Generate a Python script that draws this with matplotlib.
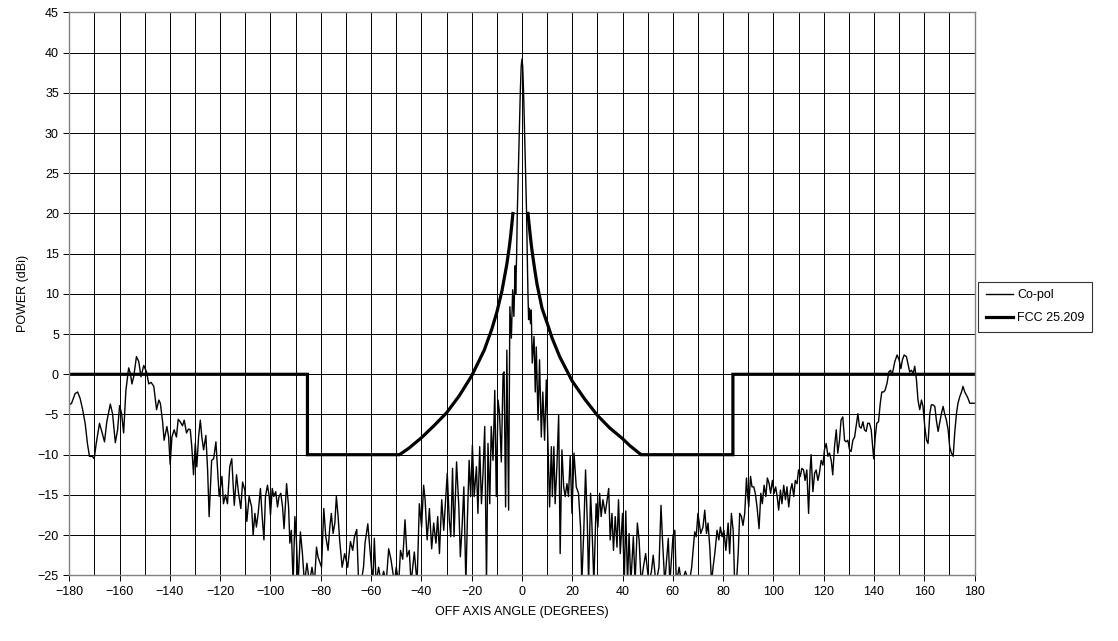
import matplotlib
matplotlib.use("Agg")
import matplotlib.pyplot as plt

plt.rcParams["font.family"] = ["Liberation Sans", "DejaVu Sans"]

# Co-pol trace (angle in degrees, power in dBi)
copol_angle = [
    -180, -179.1, -177.7, -176.7, -175.7, -174.7, -173.7, -172.8, -172, -170.9,
    -170.1, -169.3, -168, -167.1, -166, -165.1, -163.7, -162.8, -161.7, -160.8,
    -160, -159.2, -158.4, -157.5, -156.4, -155.7, -155.1, -154.4, -153.3, -152.4,
    -151.5, -150.4, -149.3, -148.4, -147.5, -146.4, -145.3, -144.4, -143.8, -142.9,
    -142.3, -141.2, -140.5, -139.9, -139.2, -138.3, -137.4, -136.7, -135.9, -135,
    -134.3, -133.4, -132.6, -131.9, -131.3, -130.6, -129.9, -129.3, -128.6, -127.9,
    -127.3, -126.6, -125.7, -125, -124.4, -123.4, -122.6, -121.7, -121.1, -120.4,
    -119.3, -118.7, -117.9, -117.1, -116.2, -115.4, -114.4, -113.5, -112.7, -111.8,
    -111.1, -110.2, -109.4, -108.5, -107.5, -106.9, -106.2, -105.6, -104.9, -104,
    -103.3, -102.6, -102, -101.2, -100.5, -100, -99.3, -98.7, -97.9, -97.2,
    -96.6, -95.9, -95.2, -94.6, -93.6, -92.8, -92.3, -91.7, -91, -90.3,
    -89.7, -89, -88.1, -87.3, -86.5, -85.5, -84.5, -83.5, -82.5, -81.7,
    -81.1, -79.7, -78.8, -78, -77.1, -76.4, -75.8, -75.1, -74.4, -73.8,
    -73.1, -72.5, -71.5, -70.5, -69.3, -68.2, -67.3, -66.6, -65.7, -65,
    -64, -63, -62.4, -61.3, -60.3, -59.3, -58.7, -58, -57, -56,
    -55, -54, -53, -52.1, -50.7, -50, -49, -48.3, -47.4, -46.5,
    -45.7, -44.8, -44.1, -42.8, -41.7, -40.8, -39.9, -39.1, -38.5, -37.7,
    -36.8, -35.9, -35.1, -34.2, -33.5, -32.8, -31.9, -31.1, -29.7, -28.9,
    -28.3, -27.6, -27, -26, -25.1, -24.5, -23.8, -23.1, -22.3, -21.7,
    -21, -20.4, -19.7, -19, -18.1, -17.5, -16.8, -16.1, -15.5, -14.8,
    -14.1, -13.5, -12.8, -12.2, -11.5, -10.8, -10.2, -9.5, -8.9, -8.2,
    -7.5, -7.1, -6.5, -6, -5.3, -4.8, -4.2, -3.7, -3.2, -2.7,
    -2.5, -2.1, -1.85, -1.46, -1.06, -0.66, -0.3, 0, 0.3, 0.66,
    1.06, 1.46, 1.85, 2.1, 2.4, 2.65, 3, 3.4, 3.7, 4.1,
    4.8, 5.3, 5.7, 6.4, 7, 7.7, 8.3, 9, 9.7, 10.3,
    11, 11.7, 12.1, 12.7, 13.2, 13.9, 14.6, 15.2, 15.9, 16.6,
    17.2, 17.9, 18.5, 19.2, 19.9, 20.7, 21.6, 22.5, 23.3, 23.8,
    24.6, 25.3, 26, 26.5, 27.3, 27.8, 28.6, 29.5, 30.2, 30.9,
    31.5, 32.2, 33.1, 33.9, 34.5, 35.1, 35.8, 36.4, 37.1, 37.8,
    38.4, 39.1, 40, 40.7, 41.3, 42, 42.6, 43.3, 44.3, 45,
    45.9, 46.6, 47.4, 48.3, 49.2, 50.5, 51.5, 52.2, 53.3, 54.5,
    55.3, 55.9, 56.8, 58.2, 58.8, 60.1, 60.8, 61.4, 62.5, 63.5,
    65, 66.5, 67.5, 68.7, 69.3, 70, 71.1, 72, 72.7, 73.4,
    74, 74.7, 75.4, 76, 76.7, 77.6, 78.3, 78.9, 79.6, 80.3,
    81.1, 82, 82.6, 83.3, 84, 84.6, 85.3, 86, 86.6, 87.3,
    87.9, 88.6, 89.3, 89.7, 90.2, 90.9, 91.5, 92.2, 92.8, 93.5,
    94.3, 95, 95.6, 96.3, 97, 97.6, 98.3, 98.9, 99.6, 100.3,
    100.9, 101.5, 102.1, 102.8, 103.4, 104.1, 104.8, 105.4, 106.1, 106.8,
    107.4, 108.1, 108.7, 109.4, 110, 110.7, 111.3, 112, 112.6, 113.3,
    114, 114.6, 115, 115.7, 116.4, 117, 117.7, 118.3, 119, 119.7,
    120.3, 121, 121.7, 122.3, 123, 123.6, 124.3, 125, 125.6, 126.3,
    126.9, 127.6, 128.3, 128.9, 129.6, 130.3, 130.9, 131.6, 132.3, 132.9,
    133.6, 134.2, 134.9, 135.6, 136.2, 136.9, 137.5, 138.2, 138.9, 139.5,
    139.9, 140.5, 141.1, 141.8, 142.5, 143.1, 143.8, 144.4, 145.2, 145.9,
    146.6, 147.2, 147.9, 148.3, 149.2, 150, 150.7, 151.3, 152, 152.9,
    153.6, 154.2, 154.9, 155.6, 156.2, 156.9, 157.5, 158.2, 158.9, 159.5,
    160.2, 160.9, 161.5, 162.2, 162.8, 163.5, 164.2, 164.8, 165.5, 166.2,
    166.8, 167.5, 168.1, 168.8, 169.5, 170.1, 170.8, 171.5, 172.1, 172.8,
    173.4, 174.1, 174.8, 175.4, 176.1, 176.8, 177.4, 178.1, 178.7, 180,
]
copol_power = [
    -3.8, -3.6, -2.4, -2.2, -3.0, -4.4, -6.1, -8.6, -10.2, -10.2,
    -10.5, -8.6, -6.1, -7.1, -8.4, -5.9, -3.7, -4.9, -8.5, -6.9,
    -3.9, -4.9, -7.3, -2.0, 0.8, 0.1, -1.2, -0.3, 2.2, 1.6,
    -0.3, 1.1, 0.3, -1.2, -1.0, -1.5, -4.4, -3.2, -3.6, -5.9,
    -8.2, -6.5, -7.8, -11.2, -7.8, -6.9, -7.8, -5.6, -5.9, -6.4,
    -5.7, -7.3, -6.8, -6.9, -9.0, -12.5, -8.6, -11.5, -7.8, -5.7,
    -7.8, -9.4, -7.6, -11.9, -17.7, -10.7, -10.5, -8.4, -11.5, -15.2,
    -12.7, -16.1, -15.0, -16.1, -11.5, -10.5, -16.3, -12.5, -14.8, -16.7,
    -13.4, -14.4, -18.3, -15.2, -16.5, -20.0, -17.3, -19.0, -17.3, -14.2,
    -17.7, -20.6, -15.2, -13.8, -15.2, -17.5, -14.2, -15.2, -14.6, -16.5,
    -15.2, -14.8, -16.5, -19.2, -13.6, -16.5, -21.0, -19.4, -26.0, -17.7,
    -20.6, -26.0, -19.6, -22.3, -26.0, -23.5, -26.0, -24.0, -26.0, -21.5,
    -22.7, -24.0, -16.7, -20.2, -21.9, -19.0, -17.3, -19.8, -18.5, -15.2,
    -17.7, -20.6, -24.0, -22.3, -24.0, -20.8, -21.9, -20.2, -19.3, -25.5,
    -26.0, -24.0, -21.0, -18.6, -22.3, -26.0, -20.4, -26.0, -24.0, -26.0,
    -24.5, -26.0, -21.7, -23.0, -26.0, -24.0, -26.0, -21.9, -23.0, -18.1,
    -22.7, -21.9, -26.0, -22.1, -26.0, -16.1, -19.0, -13.8, -15.6, -20.6,
    -16.7, -21.7, -18.5, -21.0, -17.7, -22.3, -15.6, -19.4, -12.3, -18.1,
    -20.2, -11.7, -20.2, -10.9, -16.5, -22.7, -19.0, -14.0, -26.0, -18.1,
    -10.7, -15.2, -8.8, -15.2, -11.5, -17.3, -9.0, -16.1, -12.5, -6.5,
    -26.0, -8.6, -16.1, -6.5, -10.7, -2.0, -15.2, -3.2, -4.9, -10.9,
    0.1, 0.3, -16.5, 3.0, -16.9, 8.4, 4.5, 10.5, 7.2, 13.5,
    10.0, 15.0, 20.0, 25.0, 30.0, 35.0, 38.3, 39.2, 38.3, 35.0,
    30.0, 25.0, 20.0, 15.0, 10.0, 6.8, 8.2, 6.3, 8.0, 1.4,
    4.7, -2.2, 3.4, -5.7, 1.8, -7.8, -2.2, -8.2, -0.7, -8.2,
    -16.5, -9.0, -15.2, -9.0, -16.1, -11.5, -5.1, -22.3, -9.4, -14.0,
    -15.2, -13.6, -15.2, -10.2, -17.3, -9.8, -14.0, -14.8, -19.0, -26.0,
    -19.4, -11.9, -18.5, -26.0, -14.8, -18.5, -26.0, -16.1, -19.0, -14.8,
    -17.7, -15.6, -17.3, -15.6, -14.2, -20.6, -17.3, -21.9, -17.7, -21.5,
    -15.6, -22.3, -17.3, -26.0, -17.0, -26.0, -19.8, -26.0, -20.2, -26.0,
    -18.5, -20.6, -26.0, -24.0, -22.3, -26.0, -24.5, -22.5, -26.0, -24.0,
    -16.3, -20.6, -26.0, -20.4, -26.0, -20.0, -19.4, -26.0, -24.0, -26.0,
    -24.5, -26.0, -24.0, -19.6, -20.2, -17.3, -19.8, -19.0, -16.9, -19.8,
    -18.5, -21.5, -26.0, -24.0, -22.3, -19.4, -20.6, -19.0, -20.2, -19.4,
    -21.9, -18.5, -22.3, -17.3, -19.4, -26.0, -26.0, -22.3, -17.3, -17.7,
    -18.8, -17.3, -12.9, -14.8, -16.5, -12.7, -14.0, -14.0, -14.8, -16.5,
    -19.2, -14.8, -16.1, -13.8, -15.2, -12.9, -13.6, -14.8, -13.2, -14.8,
    -14.0, -15.2, -16.9, -14.4, -16.1, -13.8, -15.6, -14.0, -16.5, -14.4,
    -13.6, -15.2, -13.2, -13.6, -11.9, -12.7, -11.7, -11.9, -13.2, -11.9,
    -17.3, -11.9, -10.0, -14.6, -12.3, -11.9, -13.2, -12.3, -10.7, -11.3,
    -9.4, -8.6, -10.2, -9.8, -10.7, -12.5, -9.0, -6.9, -9.8, -8.2,
    -5.7, -5.3, -8.2, -8.4, -8.2, -9.4, -9.6, -8.2, -7.8, -6.5,
    -4.9, -6.5, -6.7, -5.9, -6.9, -7.1, -6.1, -6.1, -6.9, -9.0,
    -10.5, -7.8, -6.1, -5.9, -3.6, -2.2, -2.2, -2.0, -1.1, 0.3,
    0.5, -0.1, 1.0, 1.6, 2.4, 1.8, 0.7, 1.8, 2.4, 2.2,
    1.2, 0.3, 0.5, 0.1, 1.0, -0.7, -3.2, -4.4, -3.2, -4.0,
    -6.5, -8.2, -8.6, -4.9, -3.8, -3.8, -4.0, -5.7, -7.1, -5.9,
    -4.9, -4.0, -4.9, -5.7, -6.9, -9.0, -9.8, -10.2, -7.3, -4.9,
    -3.6, -2.8, -2.2, -1.5, -2.2, -2.6, -3.0, -3.6, -3.6, -3.6,
]

# FCC 25.209 mask
fcc_angle = [
    -180, -85.3, -85.3, -48.7, -45, -40, -35, -30, -25, -20,
    -15, -12, -10, -8, -6, -5, -4.5, -4, -3.6,
    None,
    2.4, 3, 3.5, 4, 5, 6, 8, 10, 12, 15,
    20, 25, 30, 35, 40, 43, 47.4, 83.9, 83.9, 180,
]
fcc_power = [
    0, 0, -10, -10, -9.2, -7.9, -6.4, -4.8, -2.7, -0.2,
    3.0, 5.6, 7.7, 10.3, 13.7, 15.9, 17.2, 18.7, 20.0,
    None,
    20.0, 18.2, 16.7, 15.4, 13.2, 11.2, 8.2, 6.4, 4.5, 2.2,
    -0.85, -3.1, -5.1, -6.7, -8.0, -8.9, -10, -10, 0, 0,
]

fig = plt.figure(figsize=(11.18, 6.41), dpi=100)
ax = fig.add_axes([0.062, 0.1025, 0.8097, 0.878])

ax.plot(copol_angle, copol_power, color="black", lw=1.0, label="Co-pol")
ax.plot([a if a is not None else float("nan") for a in fcc_angle],
        [p if p is not None else float("nan") for p in fcc_power],
        color="black", lw=2.3, label="FCC 25.209", solid_joinstyle="miter")

ax.set_xlim(-180, 180)
ax.set_ylim(-25, 45)
ax.set_xticks(range(-180, 181, 20))
ax.set_xticks(range(-170, 180, 20), minor=True)
ax.set_yticks(range(-25, 46, 5))
ax.grid(True, which="both", color="black", lw=0.7)
ax.tick_params(axis="both", which="major", labelsize=9, length=4, width=0.7, direction="out")
ax.tick_params(axis="x", which="minor", length=0)
for s in ax.spines.values():
    s.set_color("#808080")
    s.set_linewidth(1.0)

ax.set_xlabel("OFF AXIS ANGLE (DEGREES)", fontsize=9, labelpad=6)
ax.set_ylabel("POWER (dBi)", fontsize=9, labelpad=6)

leg = ax.legend(loc="center left", bbox_to_anchor=(1.004, 0.477), fontsize=9,
                frameon=True, fancybox=False, borderpad=0.6, handlelength=2.2,
                handletextpad=0.3, labelspacing=0.9, borderaxespad=0)
leg.get_frame().set_edgecolor("black")
leg.get_frame().set_linewidth(0.8)

fig.savefig("out.png", dpi=100)
